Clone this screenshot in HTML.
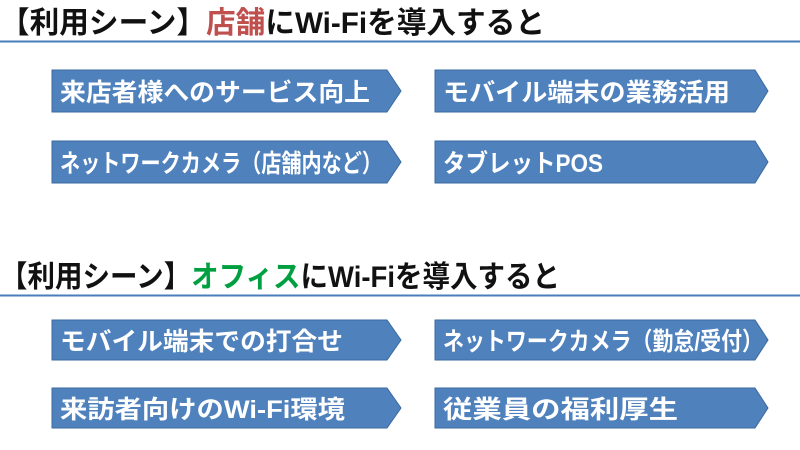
<!DOCTYPE html>
<html><head><meta charset="utf-8"><style>
html,body{margin:0;padding:0;background:#fff;}
svg{display:block;}
text{font-family:"Liberation Sans","Noto Sans CJK JP",sans-serif;font-weight:bold;}
.t{font-size:30px;fill:#111;}
.a{font-size:25px;fill:#fff;}
</style></head><body>
<svg width="800" height="450" viewBox="0 0 800 450" xmlns="http://www.w3.org/2000/svg">
<text class="t" x="0" y="33" textLength="545" lengthAdjust="spacingAndGlyphs">【利用シーン】<tspan fill="#c0504d">店舗</tspan>にWi-Fiを導入すると</text>
<line x1="0" y1="41.5" x2="800" y2="41.5" stroke="#4a7ebb" stroke-width="2"/>
<text class="t" x="0" y="287" textLength="560" lengthAdjust="spacingAndGlyphs">【利用シーン】<tspan fill="#00a040">オフィス</tspan>にWi-Fiを導入すると</text>
<line x1="0" y1="295.5" x2="800" y2="295.5" stroke="#4a7ebb" stroke-width="2"/>
<g fill="#4f81bd" stroke="#3b6aa0" stroke-width="1">
<polygon points="52,70 387,70 401,91 387,112 52,112"/>
<polygon points="435,70 755,70 768,91 755,112 435,112"/>
<polygon points="52,141 387,141 401,162 387,183 52,183"/>
<polygon points="435,141 755,141 768,162 755,183 435,183"/>
<polygon points="52,320 387,320 401,340 387,360 52,360"/>
<polygon points="435,320 755,320 768,340 755,360 435,360"/>
<polygon points="52,388 387,388 401,408 387,428 52,428"/>
<polygon points="435,388 755,388 768,408 755,428 435,428"/>
</g>
<text class="a" x="60" y="101" textLength="310" lengthAdjust="spacingAndGlyphs">来店者様へのサービス向上</text>
<text class="a" x="443" y="101" textLength="287" lengthAdjust="spacingAndGlyphs">モバイル端末の業務活用</text>
<text class="a" x="60" y="172" textLength="322" lengthAdjust="spacingAndGlyphs">ネットワークカメラ（店舗内など）</text>
<text class="a" x="443" y="172" textLength="160" lengthAdjust="spacingAndGlyphs">タブレットPOS</text>
<text class="a" x="60" y="350" textLength="283" lengthAdjust="spacingAndGlyphs">モバイル端末での打合せ</text>
<text class="a" x="443" y="350" textLength="320" lengthAdjust="spacingAndGlyphs">ネットワークカメラ（勤怠/受付）</text>
<text class="a" x="60" y="418" textLength="285" lengthAdjust="spacingAndGlyphs">来訪者向けのWi-Fi環境</text>
<text class="a" x="443" y="418" textLength="235" lengthAdjust="spacingAndGlyphs">従業員の福利厚生</text>
</svg>
</body></html>
